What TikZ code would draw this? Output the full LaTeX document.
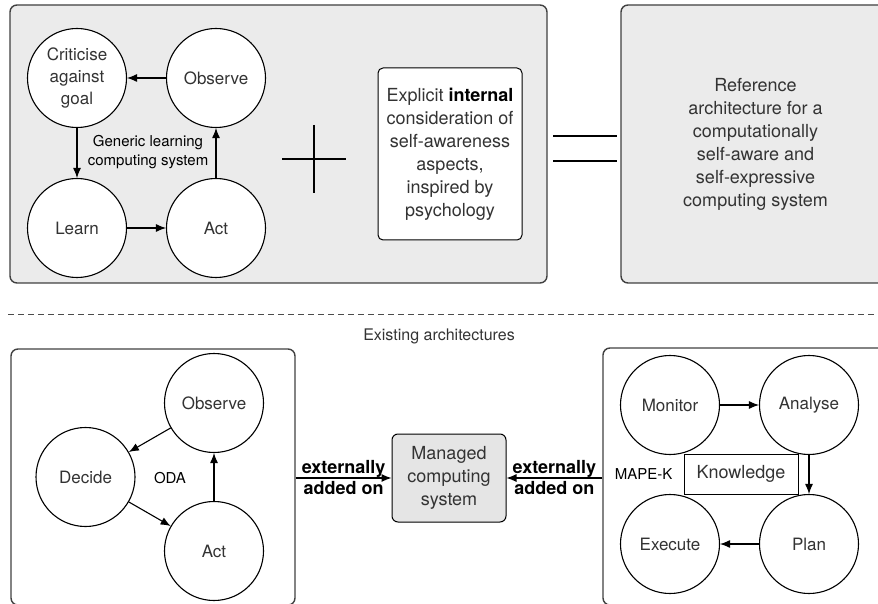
\documentclass[tikz,border=0pt]{standalone}
\usepackage{fontspec}
\setmainfont{TeX Gyre Heros}
\usetikzlibrary{arrows.meta,positioning}

\begin{document}
\begin{tikzpicture}[
  x=0.5pt, y=-0.5pt,
  font=\fontsize{9pt}{11.5pt}\selectfont,
  every node/.style={text=black!80},
  panel/.style={draw=black!75, line width=0.7pt, rounded corners=3.5pt, inner sep=0pt, align=center},
  stage/.style={circle, draw=black, line width=0.55pt, fill=white, minimum size=49.5pt, inner sep=0pt, align=center, font=\fontsize{8.5pt}{11pt}\selectfont},
  box/.style={draw=black, line width=0.5pt, align=center, inner sep=2pt},
  lab/.style={align=center, font=\fontsize{7.5pt}{9.5pt}\selectfont},
  addlab/.style={align=center, text=black, font=\fontsize{9pt}{10.5pt}\selectfont\bfseries},
  arr/.style={-{Latex[length=5pt, width=4pt]}, line width=0.55pt},
  sym/.style={line width=1pt}
]
\clip (0,0) rectangle (878,604);

% ---------- Panels ----------
\node[panel, fill=black!8, minimum width=268.5pt, minimum height=139pt] (learnpanel) at (278.5,144) {};
\node[panel, fill=black!8, minimum width=134.5pt, minimum height=139pt] (refpanel) at (755.5,144)
  {Reference\\architecture for a\\computationally\\self-aware and\\self-expressive\\computing system};
\node[panel, minimum width=142pt, minimum height=128pt] (odapanel) at (153,477) {};
\node[panel, minimum width=143.5pt, minimum height=128.5pt] (mapepanel) at (746.5,476.5) {};

% ---------- Generic learning loop ----------
\node[stage] (criticise) at (77,78) {Criticise\\against\\goal};
\node[stage] (observe) at (216,78) {Observe};
\node[stage] (learn) at (77,228) {Learn};
\node[stage] (act) at (216,228) {Act};
\draw[arr] (observe) -- (criticise);
\draw[arr] (criticise) -- (learn);
\draw[arr] (learn) -- (act);
\draw[arr] (act) -- (observe);
\node[lab, text=black] (generic) at (148,152) {Generic learning\\computing system};

% ---------- Plus, internal aspects, equals ----------
\coordinate (plus) at (314,159);
\draw[sym] ([xshift=-16pt]plus) -- ([xshift=16pt]plus);
\draw[sym] ([yshift=17pt]plus) -- ([yshift=-17pt]plus);
\node[box, rounded corners=2.5pt, fill=white, minimum width=72pt, minimum height=86pt] (explicit) at (450,154)
  {Explicit \textbf{\color{black}internal}\\consideration of\\self-awareness\\aspects,\\inspired by\\psychology};
\coordinate (equal) at (585,148.5);
\draw[sym] ([shift={(-16pt,6.25pt)}]equal) -- ([shift={(16pt,6.25pt)}]equal);
\draw[sym] ([shift={(-16pt,-6.25pt)}]equal) -- ([shift={(16pt,-6.25pt)}]equal);

% ---------- Separator ----------
\draw[black!70, line width=0.5pt, dash pattern=on 3pt off 2pt] (8,315) -- (878,315);
\node[font=\fontsize{8pt}{10pt}\selectfont] (existing) at (439,336) {Existing architectures};

% ---------- ODA ----------
\node[stage] (odaobserve) at (214,403) {Observe};
\node[stage] (decide) at (85.5,477) {Decide};
\node[stage] (odaact) at (214,551) {Act};
\draw[arr] (odaobserve) -- (decide);
\draw[arr] (decide) -- (odaact);
\draw[arr] (odaact) -- (odaobserve);
\node[lab, text=black] (oda) at (170,478) {ODA};

% ---------- MAPE-K ----------
\node[stage] (monitor) at (670,405) {Monitor};
\node[stage] (analyse) at (809,405) {Analyse};
\node[stage] (execute) at (670,544) {Execute};
\node[stage] (plan) at (809,544) {Plan};
\draw[arr] (monitor) -- (analyse);
\draw[arr] (analyse) -- (plan);
\draw[arr] (plan) -- (execute);
\node[box, minimum width=57pt, minimum height=20pt] (knowledge) at (741,474) {Knowledge};
\node[lab, text=black, left=2pt of knowledge] (mapek) {MAPE-K};

% ---------- Managed system ----------
\node[box, rounded corners=3pt, fill=black!10, minimum width=57pt, minimum height=44pt] (managed) at (449,478)
  {Managed\\computing\\system};
\draw[arr] (odapanel.east |- managed) -- node[addlab]{externally\\added on} (managed.west);
\draw[arr] (mapepanel.west |- managed) -- node[addlab]{externally\\added on} (managed.east);
\end{tikzpicture}
\end{document}
